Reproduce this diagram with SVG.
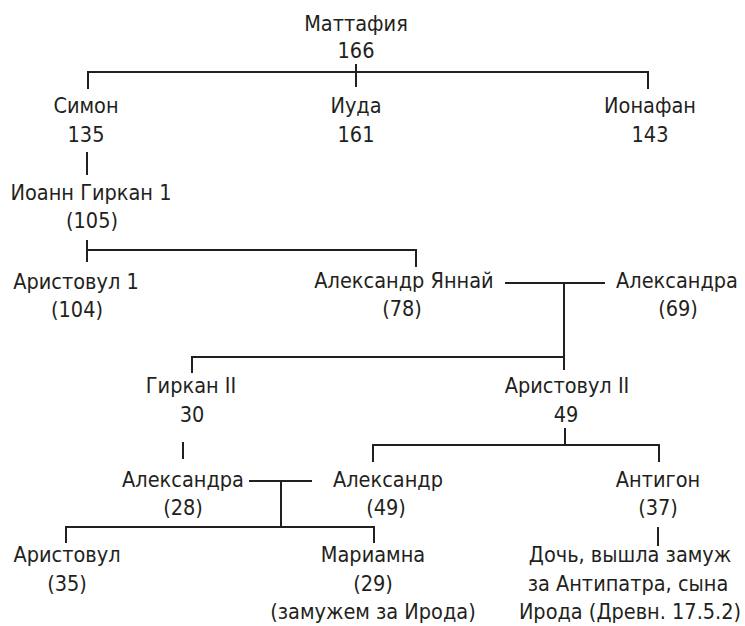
<svg xmlns="http://www.w3.org/2000/svg" width="745" height="626" viewBox="0 0 745 626">
<style>
text{font-family:"DejaVu Sans Condensed","Liberation Sans Narrow","Liberation Sans",sans-serif;font-stretch:condensed;font-size:21.5px;fill:#231f20;text-anchor:middle}
.c line{stroke:#231f20;stroke-width:2}
</style>
<rect width="745" height="626" fill="#fff"/>
<g class="c" id="connectors">
<line x1="88" y1="72" x2="648" y2="72"/>
<line x1="356" y1="64" x2="356" y2="87"/>
<line x1="88" y1="71" x2="88" y2="89"/>
<line x1="648" y1="71" x2="648" y2="89"/>
<line x1="87" y1="152" x2="87" y2="175"/>
<line x1="87" y1="240" x2="87" y2="262"/>
<line x1="87" y1="250" x2="416" y2="250"/>
<line x1="416" y1="249" x2="416" y2="267"/>
<line x1="505" y1="283" x2="605" y2="283"/>
<line x1="564" y1="283" x2="564" y2="370"/>
<line x1="192" y1="357" x2="564" y2="357"/>
<line x1="192" y1="356" x2="192" y2="373"/>
<line x1="183" y1="442" x2="183" y2="459"/>
<line x1="565" y1="428" x2="565" y2="445"/>
<line x1="373" y1="445" x2="659" y2="445"/>
<line x1="373" y1="444" x2="373" y2="462"/>
<line x1="659" y1="444" x2="659" y2="462"/>
<line x1="249" y1="481" x2="312" y2="481"/>
<line x1="281" y1="481" x2="281" y2="527"/>
<line x1="66" y1="527" x2="374" y2="527"/>
<line x1="66" y1="526" x2="66" y2="543"/>
<line x1="374" y1="526" x2="374" y2="543"/>
<line x1="658" y1="527" x2="658" y2="546"/>
</g>
<g id="mattathias"><text x="356" y="31">Маттафия</text><text x="356" y="58">166</text></g>
<g id="simon"><text x="86" y="113">Симон</text><text x="86" y="142">135</text></g>
<g id="judah"><text x="356" y="113">Иуда</text><text x="356" y="142">161</text></g>
<g id="jonathan"><text x="650" y="113">Ионафан</text><text x="650" y="142">143</text></g>
<g id="john-hyrcanus"><text x="91" y="200">Иоанн Гиркан 1</text><text x="92" y="228">(105)</text></g>
<g id="aristobulus1"><text x="76" y="289">Аристовул 1</text><text x="77" y="317">(104)</text></g>
<g id="alexander-jannaeus"><text x="404" y="288">Александр Яннай</text><text x="402" y="316">(78)</text></g>
<g id="alexandra-salome"><text x="677" y="288">Александра</text><text x="678" y="316">(69)</text></g>
<g id="hyrcanus2"><text x="191" y="393">Гиркан II</text><text x="192" y="422">30</text></g>
<g id="aristobulus2"><text x="567" y="393">Аристовул II</text><text x="566" y="422">49</text></g>
<g id="alexandra"><text x="183" y="487">Александра</text><text x="183" y="515">(28)</text></g>
<g id="alexander"><text x="388" y="487">Александр</text><text x="386" y="515">(49)</text></g>
<g id="antigonus"><text x="658" y="487">Антигон</text><text x="658" y="515">(37)</text></g>
<g id="aristobulus"><text x="67" y="562">Аристовул</text><text x="67" y="591">(35)</text></g>
<g id="mariamne"><text x="373" y="562">Мариамна</text><text x="373" y="591">(29)</text><text x="373" y="619">(замужем за Ирода)</text></g>
<g id="daughter"><text x="630" y="562">Дочь, вышла замуж</text><text x="628" y="591">за Антипатра, сына</text><text x="630" y="619">Ирода (Древн. 17.5.2)</text></g>
</svg>
